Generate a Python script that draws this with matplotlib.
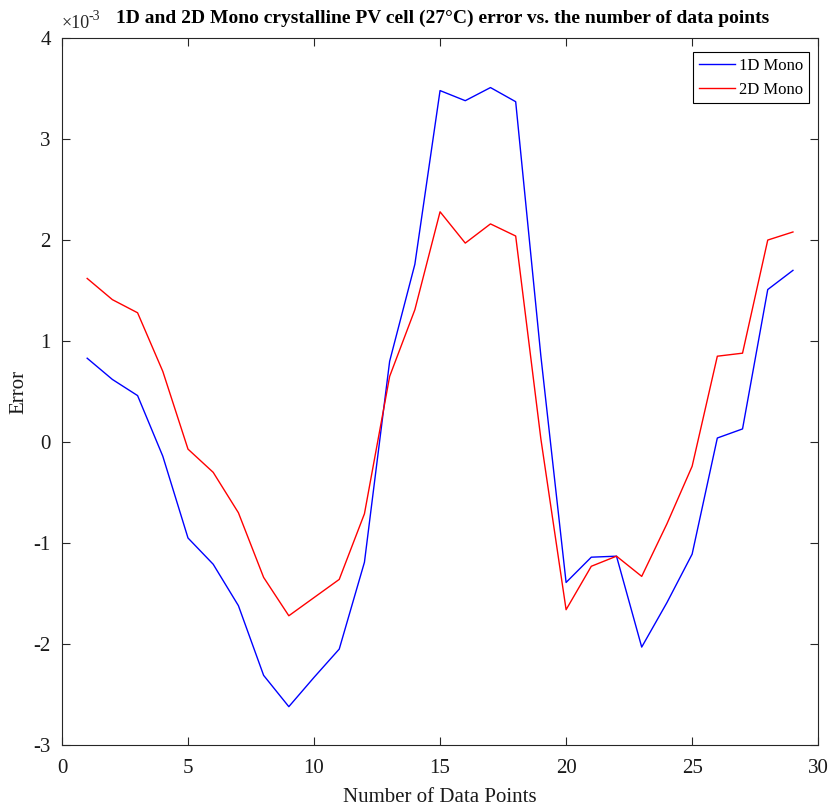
import matplotlib
matplotlib.use("Agg")
import matplotlib.pyplot as plt
from matplotlib.ticker import FuncFormatter

# ---- data (errors in units of 1e-3) ----
points = list(range(1, 30))
mono_1d = [0.83, 0.62, 0.46, -0.14, -0.95, -1.21, -1.62, -2.31, -2.62, -2.33,
           -2.05, -1.19, 0.80, 1.76, 3.48, 3.38, 3.51, 3.37, 0.85, -1.39,
           -1.14, -1.13, -2.03, -1.59, -1.11, 0.04, 0.13, 1.51, 1.70]
mono_2d = [1.62, 1.41, 1.28, 0.70, -0.07, -0.30, -0.70, -1.34, -1.72, -1.54,
           -1.36, -0.71, 0.65, 1.31, 2.28, 1.97, 2.16, 2.04, 0.03, -1.66,
           -1.23, -1.13, -1.33, -0.81, -0.24, 0.85, 0.88, 2.00, 2.08]
scale = 1e-3
series_labels = ["1D Mono", "2D Mono"]
title = "1D and 2D Mono crystalline PV cell (27\u00b0C) error vs. the number of data points"
xlabel = "Number of Data Points"
ylabel = "Error"

plt.rcParams['font.family'] = ['Liberation Serif', 'DejaVu Serif']
plt.rcParams['axes.unicode_minus'] = False

dark = '#262626'
fig = plt.figure(figsize=(8.34, 8.10), dpi=100)
ax = fig.add_axes([0.0743, 0.0802, 0.9067, 0.8728])

ax.plot(points, [v * scale for v in mono_1d], color='#0000ff', lw=1.0, label=series_labels[0])
ax.plot(points, [v * scale for v in mono_2d], color='#ff0000', lw=1.0, label=series_labels[1])

ax.set_xlim(0, 30)
ax.set_ylim(-3e-3, 4e-3)
ax.set_xticks(range(0, 31, 5))
ax.set_yticks([i * 1e-3 for i in range(-3, 5)])
ax.yaxis.set_major_formatter(FuncFormatter(lambda v, p: "%d" % round(v / scale)))

ax.tick_params(direction='in', top=True, right=True, length=6, width=0.8,
               labelsize=15, colors=dark, labelcolor='#1a1a1a')
ax.tick_params(axis='x', pad=10)
ax.tick_params(axis='y', pad=8)
for s in ax.spines.values():
    s.set_color(dark)
    s.set_linewidth(0.8)

# exponent label (MATLAB style)
ax.text(0.0, 1.008, "\u00d710", transform=ax.transAxes, fontsize=13,
        color=dark, ha='left', va='bottom')
ax.text(0.0355, 1.022, "-3", transform=ax.transAxes, fontsize=10,
        color=dark, ha='left', va='bottom')

ax.set_xlabel(xlabel, fontsize=15, color='#1a1a1a', labelpad=7)
ax.set_ylabel(ylabel, fontsize=15, color='#1a1a1a', labelpad=4)
fig.text(0.531, 1 - 18 / 810, title, fontsize=14, fontweight='bold',
         ha='center', va='center')

leg = ax.legend(loc='upper right', bbox_to_anchor=(0.988, 0.980), borderaxespad=0,
                fontsize=12, fancybox=False, framealpha=1,
                edgecolor='black', handlelength=2.15, borderpad=0.35,
                labelspacing=0.45, handletextpad=0.25)
leg.get_frame().set_linewidth(0.8)

fig.savefig("out.png", dpi=100)
